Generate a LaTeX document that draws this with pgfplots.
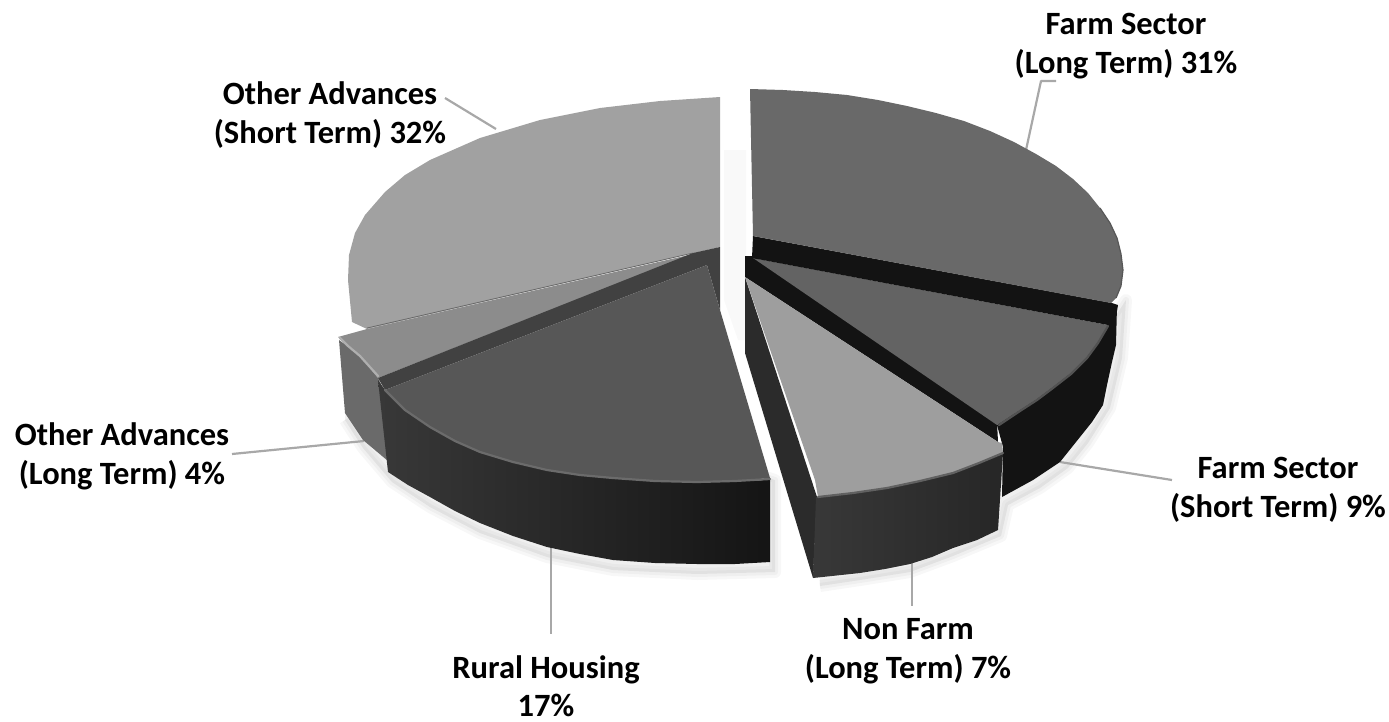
\documentclass[border=0pt]{standalone}
\usepackage{fontspec}
\setmainfont{Carlito}
\usepackage{pgfplots}
\pgfplotsset{compat=1.18}
\definecolor{leader}{HTML}{A8A8A8}
\definecolor{flong}{HTML}{696969}
\definecolor{fshort}{HTML}{636363}
\definecolor{fcut}{HTML}{131313}
\definecolor{nftop}{HTML}{9E9E9E}
\definecolor{nfcut}{HTML}{2B2B2B}
\definecolor{rtop}{HTML}{575757}
\definecolor{rcut}{HTML}{414141}
\definecolor{olong}{HTML}{8C8C8C}
\definecolor{olside}{HTML}{6A6A6A}
\definecolor{oshort}{HTML}{A1A1A1}
\pgfplotsset{
  face/.style={draw=none,fill=#1,line join=round},
  rim/.style={draw=#1,line width=2.2pt,line cap=round,line join=round},
  halo/.style={draw=black,fill=black,opacity=0.03,line width=#1,line join=round},
  lead/.style={draw=leader,line width=2.2pt,line join=round},
}
\tikzset{lab/.style={font=\fontsize{32.5}{39}\selectfont\bfseries,align=center,text=black}}
\begin{document}
\begin{tikzpicture}
\useasboundingbox (0,0) rectangle (1389pt,721pt);
\begin{axis}[
  width=1389pt,height=721pt,scale only axis,
  xmin=0,xmax=1389,ymin=0,ymax=721,y dir=reverse,
  hide axis,
]
% soft shadow under the slices
\addplot[halo=12pt] coordinates {(345,420)(363,448)(392,482)(430,507)(480,533)(547,557)(613,570)(697,574)(775,572)(775,480)(350,340)};
\addplot[halo=6pt] coordinates {(345,420)(363,448)(392,482)(430,507)(480,533)(547,557)(613,570)(697,574)(775,572)(775,480)(350,340)};
\addplot[halo=12pt] coordinates {(820,586)(860,580)(910,572)(953,556)(1001,536)(1008,505)(1040,488)(1068,468)(1088,443)(1110,408)(1122,358)(1126,300)(1100,340)(1000,480)(820,480)};
\addplot[halo=6pt] coordinates {(820,586)(860,580)(910,572)(953,556)(1001,536)(1008,505)(1040,488)(1068,468)(1088,443)(1110,408)(1122,358)(1126,300)(1100,340)(1000,480)(820,480)};
\addplot[draw=none,fill=black,opacity=0.025] coordinates {(724,150)(746,150)(746,340)(738,340)(724,300)};
% leader lines
\addplot[lead] coordinates {(1026,150)(1041,81)(1056,81)};
\addplot[lead] coordinates {(1060,462)(1172,480)};
\addplot[lead] coordinates {(912,563)(912,606)};
\addplot[lead] coordinates {(551,546)(551,634)};
\addplot[lead] coordinates {(364,441)(232,454)};
\addplot[lead] coordinates {(496,129)(445,98)};
% Other Advances, Short Term
\addplot[face=oshort] coordinates {(720,97)(660,101)(600,108)(540,120)(480,138)(430,160)(405,175)(385,192)(365,215)(355,233)(349,255)(348,280)(352,322)(367,329)(720,247)};
\addplot[draw=black!60,line width=0.7pt] coordinates {(367,328)(693,253)};
% Other Advances, Long Term
\addplot[face=olside] coordinates {(339,340)(345,413)(363,440)(388,461)(388,400)(378,378)(360,355)};
\addplot[face=olong] coordinates {(338,337)(367,329)(693,254)(378,378)(360,356)(348,345)};
\addplot[rim=olong!70!white] coordinates {(340,338)(348,346)(360,356)(378,376)};
% Rural Housing
\addplot[draw=none,left color=black!78,right color=black!92] coordinates {(378,380)(388,472)(408,485)(430,497)(455,511)(480,523)(513,536)(547,547)(580,554)(613,560)(655,563)(697,564)(735,564)(770,562)(770,480)(735,481)(697,482)(655,481)(613,478)(580,475)(547,470)(513,462)(480,452)(455,441)(430,427)(405,410)(385,390)};
\addplot[face=rcut] coordinates {(720,247)(693,253)(378,378)(385,390)(707,265)(720,310)};
\addplot[face=rtop] coordinates {(707,265)(385,390)(405,410)(430,427)(455,441)(480,452)(513,462)(547,470)(580,475)(613,478)(655,481)(697,482)(735,481)(770,478)(720,310)};
\addplot[rim=black!58] coordinates {(385,390)(405,410)(430,427)(455,441)(480,452)(513,462)(547,470)(580,475)(613,478)(655,481)(697,482)(735,481)(770,479)};
% Farm Sector, Short Term
\addplot[face=fcut] coordinates {(1117,305)(1116,345)(1112,362)(1107,385)(1103,405)(1092,422)(1080,437)(1060,462)(1033,480)(1002,497)(1003,447)(997,425)(1108,325)};
\addplot[face=fcut] coordinates {(745,256)(753,256)(997,422)(998,442)(745,277)};
\addplot[face=fshort] coordinates {(753,258)(1108,325)(1098,342)(1087,357)(1071,373)(1053,387)(1037,399)(1020,410)(997,425)};
\addplot[rim=black!68] coordinates {(1108,326)(1098,343)(1087,358)(1071,374)(1053,388)(1037,400)(1020,411)(999,425)};
% Farm Sector, Long Term
\addplot[face=fcut] coordinates {(753,236)(1112,303)(1118,305)(1115,323)(1108,325)(752,258)};
\addplot[face=flong] coordinates {(750,89)(783,90)(815,92)(847,95)(878,100)(907,106)(936,113)(964,121)(990,131)(1014,142)(1036,154)(1056,166)(1073,179)(1088,193)(1100,208)(1110,223)(1117,238)(1121,254)(1123,270)(1121,286)(1116,298)(1111,303)(753,236)};
\addplot[draw=black!66,line width=1.2pt] coordinates {(1100,208)(1110,223)(1117,238)(1121,254)(1123,270)(1121,286)(1116,298)};
% Non Farm, Long Term
\addplot[face=nfcut] coordinates {(745,277)(745,353)(813,578)(817,497)};
\addplot[draw=none,left color=black!78,right color=black!85] coordinates {(816,497)(853,493)(887,488)(920,481)(953,473)(979,463)(1003,453)(998,530)(977,540)(953,548)(932,557)(910,564)(885,569)(860,573)(813,578)};
\addplot[face=nftop] coordinates {(745,277)(998,442)(1002,443)(1003,453)(979,463)(953,473)(920,481)(887,488)(853,493)(818,497)(815,480)};
\addplot[rim=black!62] coordinates {(1003,453)(979,463)(953,473)(920,481)(887,488)(853,493)(818,497)};
% labels
\node[lab] at (axis cs:1126,46) {Farm Sector\\(Long Term) 31\%};
\node[lab] at (axis cs:1278,490) {Farm Sector\\(Short Term) 9\%};
\node[lab] at (axis cs:908,651) {Non Farm\\(Long Term) 7\%};
\node[lab,font=\fontsize{32.5}{38}\selectfont\bfseries] at (axis cs:546,686) {Rural Housing\\17\%};
\node[lab] at (axis cs:122,456) {Other Advances\\(Long Term) 4\%};
\node[lab] at (axis cs:330,115) {Other Advances\\(Short Term) 32\%};
\end{axis}
\end{tikzpicture}
\end{document}
